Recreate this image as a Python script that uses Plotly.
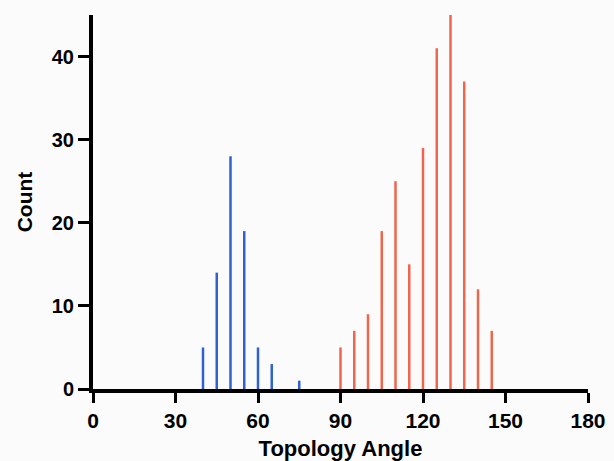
import plotly.graph_objects as go

blue_angles = [40, 45, 50, 55, 60, 65, 75]
blue_counts = [5, 14, 28, 19, 5, 3, 1]
red_angles = [90, 95, 100, 105, 110, 115, 120, 125, 130, 135, 140, 145]
red_counts = [5, 7, 9, 19, 25, 15, 29, 41, 45, 37, 12, 7]
x_ticks = [0, 30, 60, 90, 120, 150, 180]
y_ticks = [0, 10, 20, 30, 40]


def stems(xs, ys):
    px, py = [], []
    for a, c in zip(xs, ys):
        px += [a, a, None]
        py += [0, c, None]
    return px, py


fig = go.Figure()
bx, by = stems(blue_angles, blue_counts)
rx, ry = stems(red_angles, red_counts)
fig.add_trace(go.Scatter(x=bx, y=by, mode="lines", line=dict(color="#2f62d0", width=2.5),
                         showlegend=False, hoverinfo="skip", cliponaxis=False))
fig.add_trace(go.Scatter(x=rx, y=ry, mode="lines", line=dict(color="#f0664c", width=2.5),
                         showlegend=False, hoverinfo="skip", cliponaxis=False))

font_family = "Liberation Sans, Arial, sans-serif"
fig.update_layout(
    width=614, height=461,
    margin=dict(l=93, r=26, t=15, b=72),
    paper_bgcolor="#fbfbfc", plot_bgcolor="#fbfbfc",
    font=dict(family=font_family, color="black"),
)
fig.update_xaxes(
    range=[0, 180], tickvals=x_ticks, ticktext=[f"<b>{v}</b>" for v in x_ticks],
    showline=True, linecolor="black", linewidth=4, showgrid=False, zeroline=False,
    ticks="outside", ticklen=10, tickwidth=3, tickcolor="black",
    tickfont=dict(size=21), automargin=False,
    title=dict(text="<b>Topology Angle</b>", font=dict(size=22), standoff=11),
)
fig.update_yaxes(
    range=[0, 45], tickvals=y_ticks, ticktext=[f"<b>{v}</b>" for v in y_ticks],
    showline=True, linecolor="black", linewidth=4, showgrid=False, zeroline=False,
    ticks="outside", ticklen=11, tickwidth=3, tickcolor="black",
    tickfont=dict(size=20), automargin=False,
    title=dict(text="<b>Count</b>", font=dict(size=21), standoff=14),
)
fig.write_html("out.html")
